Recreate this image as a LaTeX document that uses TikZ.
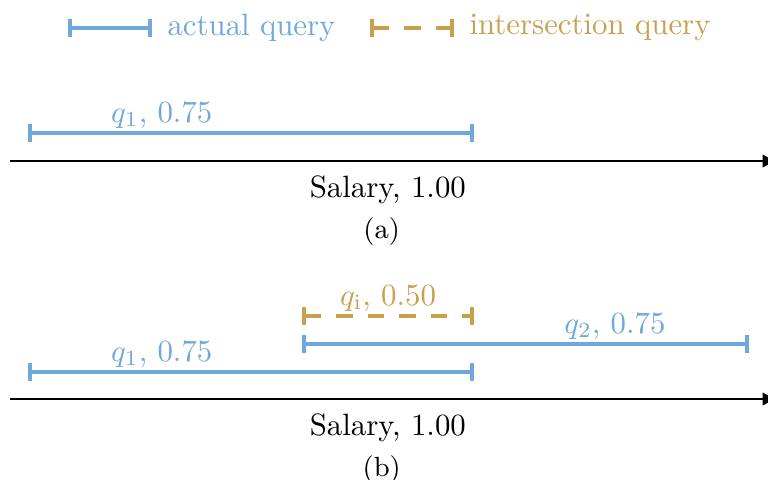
\documentclass[tikz,border=0pt]{standalone}
\usepackage{tikz}
\usetikzlibrary{arrows.meta,positioning}
\definecolor{qblue}{HTML}{6FA8DC}
\definecolor{qgold}{HTML}{C9A04F}
\begin{document}
\begin{tikzpicture}[x=0.3243pt,y=-0.3243pt,
  actual/.style={draw=qblue,line width=1.2pt,{Bar[width=5.6pt]}-{Bar[width=5.6pt]}},
  inter/.style={actual,draw=qgold,dash pattern=on 5.4pt off 4.8pt},
  axis/.style={line width=0.7pt,-{Latex[length=5pt,width=4.4pt]}},
  qlab/.style={inner sep=1pt}]
\useasboundingbox (0,0) rectangle (768,479);
% legend
\coordinate (la1) at (68,28); \coordinate (la2) at (152,28);
\coordinate (li1) at (370,28); \coordinate (li2) at (454,28);
\draw[actual] (la1) -- (la2);
\node[right=1.5pt of la2,text=qblue] (lact) {actual query};
\draw[inter] (li1) -- (li2);
\node[right=1.5pt of li2,text=qgold] (lint) {intersection query};
% (a)
\coordinate (a0) at (10,161); \coordinate (a1) at (778,161);
\draw[axis] (a0) -- node[pos=0.492,below=1pt] (asal) {Salary, 1.00} (a1);
\node[below=-2.5pt of asal,font=\small,xshift=-2pt] (acap) {(a)};
\coordinate (aq1s) at (28,133); \coordinate (aq1e) at (474,133);
\draw[actual] (aq1s) -- node[pos=0.3,above,qlab,text=qblue] {$q_1$, 0.75} (aq1e);
% (b)
\coordinate (b0) at (10,399); \coordinate (b1) at (778,399);
\draw[axis] (b0) -- node[pos=0.492,below=1pt] (bsal) {Salary, 1.00} (b1);
\node[below=-2.5pt of bsal,font=\small,xshift=-2pt] (bcap) {(b)};
\coordinate (bq1s) at (28,372); \coordinate (bq1e) at (474,372);
\coordinate (bq2s) at (302,344); \coordinate (bq2e) at (749,344);
\coordinate (bqis) at (302,316); \coordinate (bqie) at (474,316);
\draw[actual] (bq1s) -- node[pos=0.3,above,qlab,text=qblue] {$q_1$, 0.75} (bq1e);
\draw[actual] (bq2s) -- node[pos=0.7,above,qlab,text=qblue] {$q_2$, 0.75} (bq2e);
\draw[inter] (bqis) -- node[midway,above,qlab,text=qgold] {$q_\mathrm{i}$, 0.50} (bqie);
\end{tikzpicture}
\end{document}
